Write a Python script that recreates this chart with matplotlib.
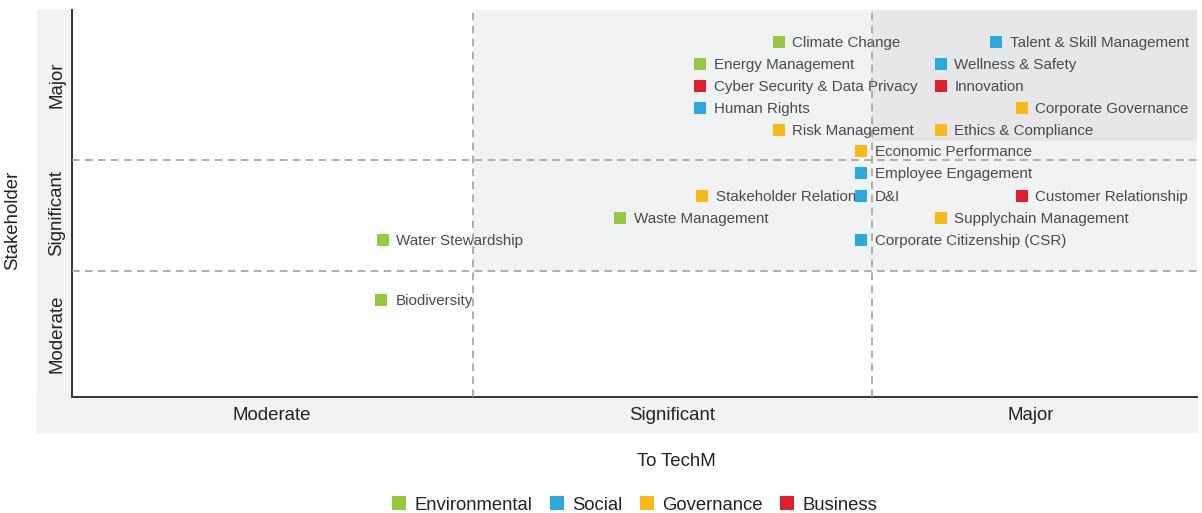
import matplotlib.pyplot as plt
from matplotlib.patches import Rectangle
from matplotlib.lines import Line2D

# Materiality topics: impact to TechM (x) vs importance to stakeholders (y), 0-100 scale
topics = ['Climate Change', 'Talent & Skill Management', 'Energy Management', 'Wellness & Safety',
          'Cyber Security & Data Privacy', 'Innovation', 'Human Rights', 'Corporate Governance',
          'Risk Management', 'Ethics & Compliance', 'Economic Performance', 'Employee Engagement',
          'Stakeholder Relation', 'D&I', 'Customer Relationship', 'Waste Management',
          'Supplychain Management', 'Water Stewardship', 'Corporate Citizenship (CSR)', 'Biodiversity']
category = ['Environmental', 'Social', 'Environmental', 'Social',
            'Business', 'Business', 'Social', 'Governance',
            'Governance', 'Governance', 'Governance', 'Social',
            'Governance', 'Social', 'Business', 'Environmental',
            'Governance', 'Environmental', 'Social', 'Environmental']
to_techm = [62.8, 82.1, 55.8, 77.2, 55.8, 77.2, 55.8, 84.4, 62.8, 77.2,
            70.1, 70.1, 56.0, 70.1, 84.4, 48.7, 77.2, 27.6, 70.1, 27.5]
stakeholder = [91.7, 91.7, 86.0, 86.0, 80.4, 80.4, 74.7, 74.7, 69.0, 69.0,
               63.6, 57.9, 51.9, 51.9, 51.9, 46.3, 46.3, 40.6, 40.6, 25.1]

levels = ['Moderate', 'Significant', 'Major']
x_bounds = [0, 35.6, 71.1, 100]
y_bounds = [0, 32.6, 61.2, 100]
x_label_pos = [17.8, 53.3, 85.2]
y_label_pos = [16.3, 47.5, 80.6]
top_band = 66.2

colors = {'Environmental': '#95c93d', 'Social': '#27aae1',
          'Governance': '#fdb913', 'Business': '#e21e2e'}

fig = plt.figure(figsize=(12.02, 5.13), dpi=100)
W, H = 1202, 513
band = '#f1f2f4'
font = 'Liberation Sans'

# grey label bands behind the tick labels
fig.patches.append(Rectangle((37 / W, (513 - 432) / H), 35 / W, 422 / H,
                             transform=fig.transFigure, color=band, zorder=-5))
fig.patches.append(Rectangle((37 / W, (513 - 432) / H), 1160 / W, 35 / H,
                             transform=fig.transFigure, color=band, zorder=-5))

ax = fig.add_axes([72 / W, 116 / H, 1125 / W, 387 / H])
ax.set_xlim(0, 100)
ax.set_ylim(0, 100)
ax.patch.set_alpha(0)

ax.add_patch(Rectangle((x_bounds[1], y_bounds[1]), 100 - x_bounds[1], 100 - y_bounds[1],
                       color=band, zorder=0, lw=0))
ax.add_patch(Rectangle((x_bounds[2], top_band), 100 - x_bounds[2], 100 - top_band,
                       color='#e6e7e9', zorder=0, lw=0))

for xv in x_bounds[1:3]:
    ax.axvline(xv, color='#9a9a9a', ls=(0, (5, 3.5)), lw=1.1, zorder=3)
for yv in y_bounds[1:3]:
    ax.axhline(yv, color='#9a9a9a', ls=(0, (5, 3.5)), lw=1.1, zorder=3)

for name, cat, xv, yv in zip(topics, category, to_techm, stakeholder):
    ax.scatter(xv, yv, marker='s', s=72, color=colors[cat], lw=0, zorder=4)
    ax.annotate(name, (xv, yv), xytext=(10, -0.5), textcoords='offset points',
                va='center', ha='left', fontsize=10.9, color='#4a4a4a',
                family=font, zorder=2)

for s in ['top', 'right']:
    ax.spines[s].set_visible(False)
for s in ['left', 'bottom']:
    ax.spines[s].set_color('#333333')
    ax.spines[s].set_linewidth(1.4)

ax.set_xticks(x_label_pos)
ax.set_xticklabels(levels, fontsize=13.4, color='#222222', family=font)
ax.set_yticks(y_label_pos)
ax.set_yticklabels(levels, fontsize=13.4, color='#222222', family=font,
                   rotation=90, va='center')
ax.tick_params(axis='x', length=0, pad=7)
ax.tick_params(axis='y', length=0, pad=5)

fig.text(13 / W, 1 - 220 / H, 'Stakeholder', rotation=90, ha='center', va='center',
         fontsize=13.4, color='#222222', family=font)
fig.text(676 / W, 1 - 462 / H, 'To TechM', ha='center', va='center',
         fontsize=13.4, color='#222222', family=font)

handles = [Line2D([], [], marker='s', ls='', markersize=9.4, markeredgewidth=0,
                  color=c) for c in colors.values()]
fig.legend(handles, list(colors.keys()), loc='center', bbox_to_anchor=(634.5 / W, 1 - 505 / H),
           ncol=4, frameon=False, handlelength=0.75, handletextpad=0.45, columnspacing=0.95,
           prop={'family': font, 'size': 13.3}, labelcolor='#222222')

fig.savefig('out.png', dpi=100)
